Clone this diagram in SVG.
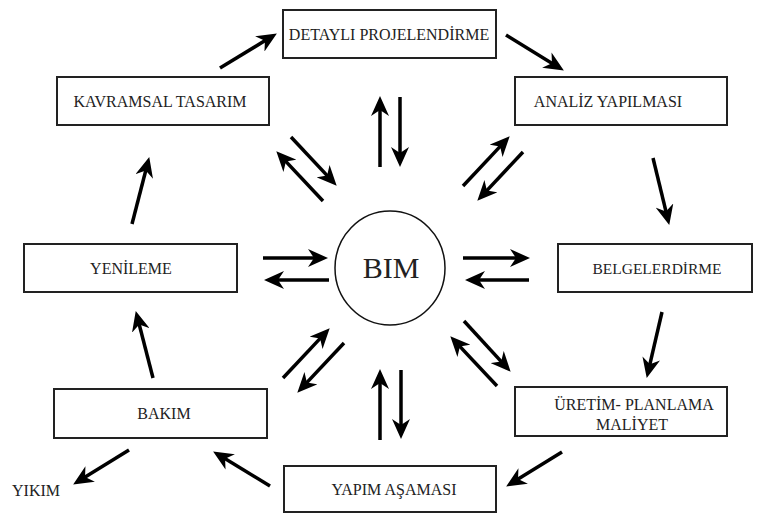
<svg xmlns="http://www.w3.org/2000/svg" width="761" height="514" viewBox="0 0 761 514">
<style>
.box{fill:#fff;stroke:#222;stroke-width:2}
.t{font-family:'Liberation Serif','DejaVu Serif',serif;font-size:16px;fill:#222;text-anchor:middle}
.a{stroke:#000;stroke-width:3.5;fill:none;marker-end:url(#ah)}
</style>
<defs>
<marker id="ah" markerUnits="userSpaceOnUse" markerWidth="20" markerHeight="18" viewBox="0 0 20 18" refX="13" refY="9" orient="auto">
<path d="M20,9 L0,0 L6,9 L0,18 Z" fill="#000"/>
</marker>
</defs>
<rect width="761" height="514" fill="#fff"/>
<g id="bim">
<ellipse cx="390" cy="268" rx="55" ry="57" fill="#fff" stroke="#111" stroke-width="1.5"/>
<text x="391" y="278" class="t" font-family="'Liberation Serif', serif" style="font-size:30px">BIM</text>
</g>
<g id="detayli">
<rect class="box" x="283" y="10" width="213" height="48"/>
<text x="389" y="40" class="t" font-family="'Liberation Serif', serif">DETAYLI PROJELENDİRME</text>
</g>
<g id="kavramsal">
<rect class="box" x="57" y="77" width="212" height="48"/>
<text x="160" y="107" class="t" font-family="'Liberation Serif', serif">KAVRAMSAL TASARIM</text>
</g>
<g id="analiz">
<rect class="box" x="515" y="77" width="212" height="48"/>
<text x="608" y="107" class="t" font-family="'Liberation Serif', serif">ANALİZ YAPILMASI</text>
</g>
<g id="yenileme">
<rect class="box" x="24" y="244" width="213" height="48"/>
<text x="131" y="274" class="t" font-family="'Liberation Serif', serif">YENİLEME</text>
</g>
<g id="belgelerdirme">
<rect class="box" x="558" y="244" width="194" height="48"/>
<text x="657" y="274" class="t" font-family="'Liberation Serif', serif" style="font-size:15.5px">BELGELERDİRME</text>
</g>
<g id="bakim">
<rect class="box" x="54" y="389" width="213" height="49"/>
<text x="164" y="419" class="t" font-family="'Liberation Serif', serif">BAKIM</text>
</g>
<g id="uretim">
<rect class="box" x="515" y="387" width="212" height="49"/>
<text x="634" y="410" class="t" font-family="'Liberation Serif', serif">ÜRETİM- PLANLAMA</text>
<text x="632" y="430" class="t" font-family="'Liberation Serif', serif">MALİYET</text>
</g>
<g id="yapim">
<rect class="box" x="284" y="466" width="212" height="46"/>
<text x="394" y="495" class="t" font-family="'Liberation Serif', serif">YAPIM AŞAMASI</text>
</g>
<g id="yikim">
<text x="12" y="496" class="t" font-family="'Liberation Serif', serif" style="text-anchor:start">YIKIM</text>
</g>
<g id="connectors">
<line class="a" x1="220" y1="68" x2="270.9" y2="37.1"/>
<line class="a" x1="506" y1="35" x2="557.9" y2="66.9"/>
<line class="a" x1="653" y1="158" x2="667.6" y2="218.2"/>
<line class="a" x1="662" y1="312" x2="648.3" y2="371.1"/>
<line class="a" x1="562" y1="452" x2="512.1" y2="482.8"/>
<line class="a" x1="270" y1="486" x2="219.1" y2="455.1"/>
<line class="a" x1="129" y1="450" x2="79.1" y2="480.8"/>
<line class="a" x1="153" y1="378" x2="137.5" y2="317.8"/>
<line class="a" x1="132" y1="224" x2="147.5" y2="163.8"/>
<line class="a" x1="380" y1="167" x2="380" y2="103"/>
<line class="a" x1="400" y1="97" x2="400" y2="160"/>
<line class="a" x1="291" y1="137" x2="331.9" y2="180.6"/>
<line class="a" x1="323" y1="201" x2="281.1" y2="156.4"/>
<line class="a" x1="463" y1="186" x2="504.9" y2="141.4"/>
<line class="a" x1="523" y1="152" x2="482.1" y2="195.6"/>
<line class="a" x1="263" y1="258" x2="321" y2="258"/>
<line class="a" x1="329" y1="280" x2="271" y2="280"/>
<line class="a" x1="463" y1="258" x2="523" y2="258"/>
<line class="a" x1="529" y1="280" x2="472" y2="280"/>
<line class="a" x1="344" y1="343" x2="302.1" y2="387.6"/>
<line class="a" x1="283" y1="378" x2="324.9" y2="333.4"/>
<line class="a" x1="464" y1="321" x2="505.9" y2="366.6"/>
<line class="a" x1="497" y1="386" x2="455.1" y2="341.4"/>
<line class="a" x1="380" y1="440" x2="380" y2="376"/>
<line class="a" x1="401" y1="370" x2="401" y2="432"/>
</g>
</svg>
